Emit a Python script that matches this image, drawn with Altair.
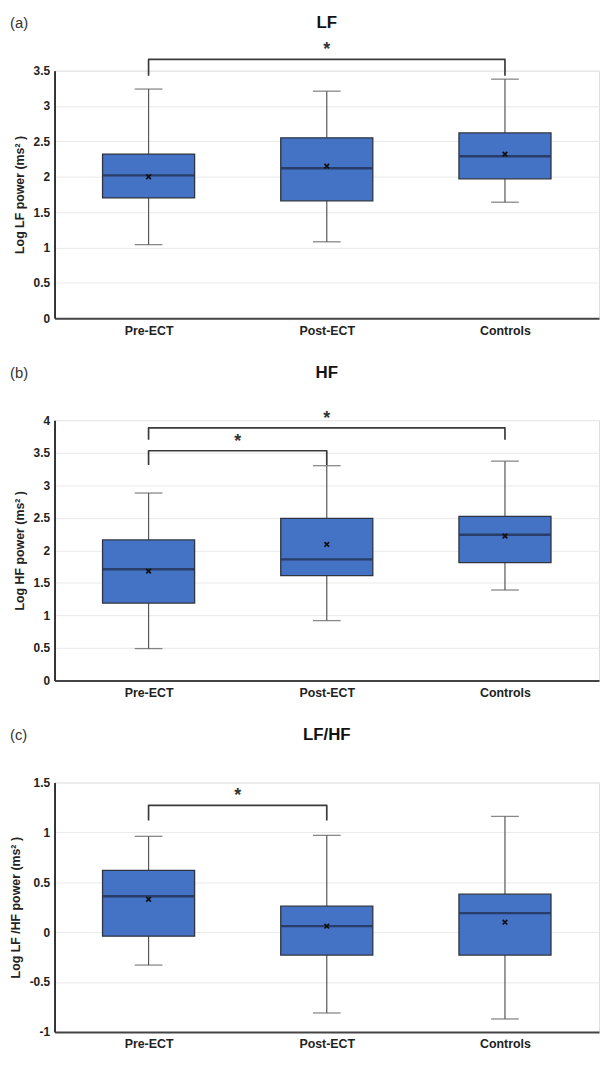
import altair as alt
import pandas as pd

categories = ["Pre-ECT", "Post-ECT", "Controls"]

lf_min = [1.04, 1.08, 1.64]
lf_q1 = [1.70, 1.66, 1.97]
lf_median = [2.02, 2.12, 2.29]
lf_q3 = [2.32, 2.55, 2.62]
lf_max = [3.24, 3.21, 3.38]
lf_mean = [2.00, 2.15, 2.32]

hf_min = [0.49, 0.92, 1.39]
hf_q1 = [1.19, 1.61, 1.81]
hf_median = [1.71, 1.86, 2.24]
hf_q3 = [2.16, 2.49, 2.52]
hf_max = [2.88, 3.30, 3.37]
hf_mean = [1.68, 2.09, 2.22]

ratio_min = [-0.33, -0.81, -0.87]
ratio_q1 = [-0.04, -0.23, -0.23]
ratio_median = [0.36, 0.06, 0.19]
ratio_q3 = [0.62, 0.26, 0.38]
ratio_max = [0.96, 0.97, 1.16]
ratio_mean = [0.33, 0.06, 0.10]

# significance brackets: (from group, to group, bar level, leg end level)
lf_sig = [("Pre-ECT", "Controls", 3.66, 3.43)]
hf_sig = [("Pre-ECT", "Controls", 3.88, 3.70), ("Pre-ECT", "Post-ECT", 3.53, 3.31)]
ratio_sig = [("Pre-ECT", "Post-ECT", 1.27, 1.12)]

FONT = "Liberation Sans"
W = 550
BOX_FILL = "#4472C4"


def panel(tag, title, ytitle, dom, mins, q1s, meds, q3s, maxs, means, sig, height):
    df = pd.DataFrame({
        "idx": list(range(len(categories))), "cat": categories,
        "lo": mins, "q1": q1s, "med": meds, "q3": q3s, "hi": maxs, "mean": means,
    })
    xs = alt.Scale(domain=[-0.5, len(categories) - 0.5], nice=False, zero=False)
    ys = alt.Scale(domain=dom, nice=False, zero=False)
    nsteps = int(round((dom[1] - dom[0]) / 0.5))
    yticks = [round(dom[0] + 0.5 * i, 2) for i in range(nsteps + 1)]
    label_expr = "[" + ",".join("'%s'" % c for c in categories) + "][datum.value]"
    xaxis = alt.Axis(values=list(range(len(categories))), labelExpr=label_expr, title=None,
                     grid=False, ticks=False, domainColor="#444", domainWidth=2,
                     labelFont=FONT, labelFontSize=12.5, labelFontWeight="bold",
                     labelColor="#222", labelPadding=6)
    yaxis = alt.Axis(values=yticks, labelExpr="datum.value + ''", title=ytitle,
                     grid=True, gridColor="#e9e9e9", gridWidth=1, ticks=False,
                     domainColor="#333", domainWidth=2, labelFont=FONT, labelFontSize=12,
                     labelFontWeight="bold", labelColor="#222", labelPadding=5,
                     titleFont=FONT, titleFontSize=12.5, titleFontWeight="bold",
                     titleColor="#222", titlePadding=7)

    def X(f="idx"):
        return alt.X(f + ":Q", scale=xs, axis=xaxis)

    def Y(f):
        return alt.Y(f + ":Q", scale=ys, axis=yaxis)

    base = alt.Chart(df)
    wl = base.mark_rule(color="#555", strokeWidth=1.2).encode(x=X(), y=Y("lo"), y2="q1:Q")
    wh = base.mark_rule(color="#555", strokeWidth=1.2).encode(x=X(), y=Y("q3"), y2="hi:Q")
    cap_lo = base.mark_tick(orient="horizontal", size=28, thickness=1.3, color="#555").encode(x=X(), y=Y("lo"))
    cap_hi = base.mark_tick(orient="horizontal", size=28, thickness=1.3, color="#555").encode(x=X(), y=Y("hi"))
    box = base.mark_bar(size=93, color=BOX_FILL, stroke="#2e3440", strokeWidth=1.3).encode(
        x=X(), y=Y("q1"), y2="q3:Q")
    med = base.mark_tick(orient="horizontal", size=92, thickness=2.4, color="#1c2740").encode(
        x=X(), y=Y("med"))
    mean = base.mark_point(shape="M-1,-1L1,1M-1,1L1,-1", size=22, strokeWidth=1.7,
                           color="#111", opacity=1).encode(x=X(), y=Y("mean"))

    rows, stars = [], []
    for k, (a, b, lvl, end) in enumerate(sig):
        ia, ib = categories.index(a), categories.index(b)
        for o, (xi, yv) in enumerate([(ia, end), (ia, lvl), (ib, lvl), (ib, end)]):
            rows.append({"id": k, "o": o, "idx": xi, "y": yv})
        stars.append({"idx": (ia + ib) / 2, "y": lvl, "s": "*"})
    br = alt.Chart(pd.DataFrame(rows)).mark_line(color="#3a3a3a", strokeWidth=1.7,
                                                 strokeJoin="round").encode(
        x=X(), y=Y("y"), detail="id:N", order="o:Q")
    st = alt.Chart(pd.DataFrame(stars)).mark_text(font=FONT, fontSize=18, fontWeight="bold",
                                                  color="#333", baseline="middle", dy=-9).encode(
        x=X(), y=Y("y"), text="s:N")

    hdr = pd.DataFrame({"t": [title], "g": [tag]})
    ttl = alt.Chart(hdr).mark_text(font=FONT, fontSize=17, fontWeight="bold", color="#111",
                                   baseline="middle", align="center").encode(
        x=alt.value(W / 2), y=alt.value(-48), text="t:N")
    tg = alt.Chart(hdr).mark_text(font=FONT, fontSize=15, color="#333",
                                  baseline="middle", align="left").encode(
        x=alt.value(-45), y=alt.value(-48), text="g:N")

    return alt.layer(wl, wh, box, med, mean, cap_lo, cap_hi, br, st, ttl, tg).properties(
        width=W, height=height)


pa = panel("(a)", "LF", "Log LF power (ms² )", [0, 3.5],
           lf_min, lf_q1, lf_median, lf_q3, lf_max, lf_mean, lf_sig, 250)
pb = panel("(b)", "HF", "Log HF power (ms² )", [0, 4],
           hf_min, hf_q1, hf_median, hf_q3, hf_max, hf_mean, hf_sig, 263)
pc = panel("(c)", "LF/HF", "Log LF /HF power (ms² )", [-1, 1.5],
           ratio_min, ratio_q1, ratio_median, ratio_q3, ratio_max, ratio_mean, ratio_sig, 252)

chart = alt.vconcat(pa, pb, pc, spacing=103, bounds="flush").properties(
    padding=0
).configure_view(stroke=None).configure(background="white")

chart.save("out.html", embed_options={"renderer": "svg", "actions": False})
